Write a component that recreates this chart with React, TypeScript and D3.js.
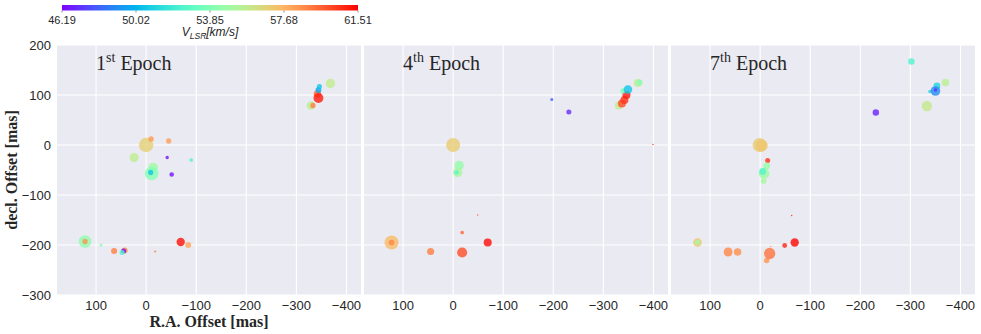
import * as d3 from "d3";

// [R.A. offset, decl. offset, V_LSR, flux] per maser spot
type Spot = [number, number, number, number];

const epoch1: Spot[] = [
  [0, 0, 56.9, 90], [-10, 12, 58.4, 12], [-45, 8, 58.3, 12], [24, -25, 55.7, 35],
  [-42, -25, 46.5, 5], [-90, -30, 52.3, 6], [-14, -45, 54.8, 40], [-11, -57, 54.0, 80],
  [-9, -55, 50.5, 12], [-51, -59, 46.5, 9], [122, -193, 54.3, 70], [122, -193, 58.5, 12],
  [90, -200, 54.0, 4], [64, -212, 59.0, 16], [43, -211, 58.8, 16], [45, -212, 46.5, 11],
  [48, -215, 52.5, 11], [-18, -213, 59.0, 2], [-69, -194, 61.2, 30], [-84, -200, 58.0, 16],
  [-368, 123, 55.8, 38], [-329, 79, 55.6, 32], [-333, 79, 59.0, 12], [-342, 102, 59.5, 24],
  [-344, 94, 61.0, 42], [-344, 110, 49.7, 15], [-346, 117, 50.5, 11],
];

const epoch4: Spot[] = [
  [0, 0, 57.0, 85], [-12, -41, 54.4, 38], [-9, -55, 55.0, 38], [-7, -55, 52.5, 8],
  [-49, -140, 60.0, 1], [-18, -175, 59.5, 6], [123, -195, 57.5, 85], [123, -195, 58.8, 14],
  [45, -213, 59.0, 22], [-18, -215, 60.0, 44], [-69, -195, 61.3, 28], [-197, 91, 48.0, 4],
  [-231, 66, 47.0, 11], [-399, 1, 61.0, 0.5], [-369, 124, 55.8, 28], [-372, 125, 54.0, 16],
  [-331, 79, 55.8, 28], [-337, 83, 60.0, 28], [-342, 90, 60.5, 28], [-346, 100, 61.0, 28],
  [-339, 108, 53.5, 12], [-349, 111, 50.5, 32],
];

const epoch7: Spot[] = [
  [1, 0, 57.0, 85], [-3, -1, 57.2, 65], [-15, -31, 60.5, 11], [-13, -42, 54.5, 20],
  [-8, -57, 54.8, 50], [-5, -53, 52.5, 20], [-7, -72, 55.0, 14], [-63, -141, 61.0, 1],
  [125, -195, 57.2, 32], [125, -195, 55.0, 13], [64, -214, 58.8, 34], [45, -214, 58.6, 24],
  [-13, -231, 58.5, 13], [-21, -203, 58.5, 1], [-19, -217, 59.2, 55], [-49, -201, 60.8, 10],
  [-69, -195, 61.4, 30], [-231, 65, 46.8, 18], [-302, 167, 52.4, 18], [-370, 125, 55.6, 24],
  [-333, 78, 55.9, 46], [-339, 107, 51.0, 5], [-353, 118, 51.0, 20], [-350, 108, 49.0, 40],
  [-350, 110, 47.0, 5],
];

const epochs = [
  { num: "1", sup: "st", spots: epoch1 },
  { num: "4", sup: "th", spots: epoch4 },
  { num: "7", sup: "th", spots: epoch7 },
];

const xTicks = [100, 0, -100, -200, -300, -400];
const yTicks = [200, 100, 0, -100, -200, -300];
const cbTicks = [46.19, 50.02, 53.85, 57.68, 61.51];

// matplotlib "rainbow"
function rainbow(t: number) {
  const c = (v: number) => Math.round(255 * Math.max(0, Math.min(1, v)));
  return d3.rgb(c(Math.abs(2 * t - 0.5)), c(Math.sin(Math.PI * t)), c(Math.cos((Math.PI * t) / 2))).toString();
}

const panelW = 304;
const panelLefts = [57, 364, 671];
const top = 45, bottom = 295;
const sans = "'Liberation Sans', Arial, sans-serif";
const serif = "'Liberation Serif', 'Times New Roman', serif";

export default function App() {
  const x = d3.scaleLinear().domain([178, -429]).range([0, panelW]);
  const y = d3.scaleLinear().domain([-300, 200]).range([bottom, top]);
  const vScale = d3.scaleLinear().domain([46.19, 61.51]).range([0, 1]).clamp(true);
  const r = d3.scaleSqrt().domain([0, 100]).range([0, 7.6]);
  const cb = d3.scaleLinear().domain([46.19, 61.51]).range([62, 358]);
  const stops = d3.range(0, 1.0001, 0.05);

  return (
    <svg width={981} height={334} style={{ position: "absolute", left: 0, top: 0, background: "#fff" }}>
      <defs>
        <linearGradient id="cbgrad" x1="0" x2="1" y1="0" y2="0">
          {stops.map((s) => (
            <stop key={s} offset={s} stopColor={rainbow(s)} />
          ))}
        </linearGradient>
      </defs>

      {/* colorbar */}
      <rect x={cb.range()[0]} y={5} width={cb.range()[1] - cb.range()[0]} height={5.5} fill="url(#cbgrad)" />
      {cbTicks.map((t) => (
        <g key={t}>
          <line x1={cb(t)} x2={cb(t)} y1={10.5} y2={12.5} stroke="#444" strokeWidth={0.6} />
          <text x={cb(t)} y={24} fontSize={11} fontFamily={sans} textAnchor="middle" fill="#262626">
            {t.toFixed(2)}
          </text>
        </g>
      ))}
      <text x={210} y={36} fontSize={12} fontFamily={sans} fontStyle="italic" textAnchor="middle" fill="#262626">
        V<tspan fontSize={8.5} dy={2.5}>LSR</tspan>
        <tspan dy={-2.5}>[km/s]</tspan>
      </text>

      {epochs.map((ep, i) => {
        const left = panelLefts[i];
        return (
          <g key={i} transform={`translate(${left},0)`}>
            <rect x={0} y={top} width={panelW} height={bottom - top} fill="#EAEAF2" />
            {xTicks.map((t) => (
              <line key={"gx" + t} x1={x(t)} x2={x(t)} y1={top} y2={bottom} stroke="#fff" strokeWidth={1.1} />
            ))}
            {yTicks.map((t) => (
              <line key={"gy" + t} x1={0} x2={panelW} y1={y(t)} y2={y(t)} stroke="#fff" strokeWidth={1.1} />
            ))}
            {ep.spots.map((d, j) => (
              <circle
                key={j}
                cx={x(d[0])}
                cy={y(d[1])}
                r={Math.max(0.7, r(d[3]))}
                fill={rainbow(vScale(d[2]))}
                fillOpacity={0.8}
              />
            ))}
            <text x={x(100)} y={y(150)} fontSize={20} fontFamily={serif} fill="#262626">
              {ep.num}
              <tspan fontSize={14} dy={-8}>{ep.sup}</tspan>
              <tspan dy={8}> Epoch</tspan>
            </text>
            {xTicks.map((t) => (
              <text key={"tx" + t} x={x(t)} y={310} fontSize={13} fontFamily={sans} textAnchor="middle" fill="#262626">
                {t < 0 ? "\u2212" + Math.abs(t) : t}
              </text>
            ))}
          </g>
        );
      })}

      {yTicks.map((t) => (
        <text key={"ty" + t} x={51} y={y(t) + 4.5} fontSize={13} fontFamily={sans} textAnchor="end" fill="#262626">
          {t < 0 ? "\u2212" + Math.abs(t) : t}
        </text>
      ))}

      <text x={panelLefts[0] + panelW / 2} y={327} fontSize={16} fontWeight="bold" fontFamily={serif} textAnchor="middle" fill="#262626">
        R.A. Offset [mas]
      </text>
      <text
        transform={`translate(17,${(top + bottom) / 2}) rotate(-90)`}
        fontSize={16}
        fontWeight="bold"
        fontFamily={serif}
        textAnchor="middle"
        fill="#262626"
      >
        decl. Offset [mas]
      </text>
    </svg>
  );
}
